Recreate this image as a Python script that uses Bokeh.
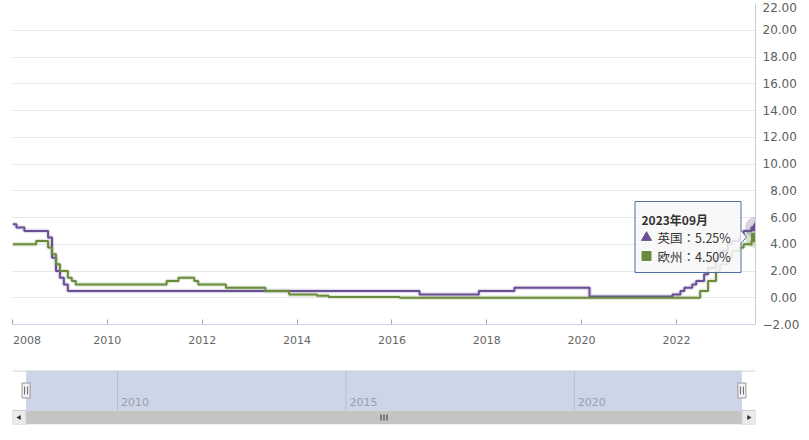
import math
from bokeh.plotting import figure
from bokeh.layouts import column
from bokeh.models import Range1d, FixedTicker
from bokeh.embed import file_html
from bokeh.resources import INLINE
from bokeh.core.properties import value

# ---------------- data (policy-rate change points, monthly) ----------------
series_names = ["英国", "欧州"]
uk_months = ["2008-01", "2008-02", "2008-04", "2008-10", "2008-11", "2008-12",
             "2009-01", "2009-02", "2009-03", "2016-08", "2017-11", "2018-08",
             "2020-03", "2021-12", "2022-02", "2022-03", "2022-05", "2022-06",
             "2022-08", "2022-09", "2022-11", "2022-12", "2023-02", "2023-03",
             "2023-05", "2023-06", "2023-08", "2023-09"]
uk_rates = [5.50, 5.25, 5.00, 4.50, 3.00, 2.00,
            1.50, 1.00, 0.50, 0.25, 0.50, 0.75,
            0.10, 0.25, 0.50, 0.75, 1.00, 1.25,
            1.75, 2.25, 3.00, 3.50, 4.00, 4.25,
            4.50, 5.00, 5.25, 5.25]
ez_months = ["2008-01", "2008-07", "2008-10", "2008-11", "2008-12", "2009-01",
             "2009-03", "2009-04", "2009-05", "2011-04", "2011-07", "2011-11",
             "2011-12", "2012-07", "2013-05", "2013-11", "2014-06", "2014-09",
             "2016-03", "2022-07", "2022-09", "2022-11", "2022-12", "2023-02",
             "2023-03", "2023-05", "2023-06", "2023-08", "2023-09"]
ez_rates = [4.00, 4.25, 3.75, 3.25, 2.50, 2.00,
            1.50, 1.25, 1.00, 1.25, 1.50, 1.25,
            1.00, 0.75, 0.50, 0.25, 0.15, 0.05,
            0.00, 0.50, 1.25, 2.00, 2.50, 3.00,
            3.50, 3.75, 4.00, 4.25, 4.50]
y_ticks = [-2, 0, 2, 4, 6, 8, 10, 12, 14, 16, 18, 20, 22]
x_ticks = [2008, 2010, 2012, 2014, 2016, 2018, 2020, 2022]
nav_ticks = [2010, 2015, 2020]

PURPLE = "#6b4f96"
GREEN = "#6a8c3a"
FONT = "DejaVu Sans"
CJK = "Noto Sans CJK JP"


def to_year(m):
    y, mo = m.split("-")
    return int(y) + (int(mo) - 1) / 12.0


uk_x = [to_year(m) for m in uk_months]
ez_x = [to_year(m) for m in ez_months]
x0 = min(uk_x[0], ez_x[0])
x1 = max(uk_x[-1], ez_x[-1])
y0, y1 = y_ticks[0], y_ticks[-1]

# ---------------- main chart ----------------
W, H = 809, 365
BL, BR, BT, BB = 12, 54, 3, 41
FW, FH = W - BL - BR, H - BT - BB

p = figure(width=W, height=H, x_range=Range1d(x0, x1), y_range=Range1d(y0, y1),
           output_backend="svg", toolbar_location=None, y_axis_location="right",
           min_border_left=BL, min_border_right=BR, min_border_top=BT,
           min_border_bottom=BB)
p.outline_line_color = None
p.background_fill_color = "white"
p.border_fill_color = "white"

xa = p.xaxis[0]
xa.ticker = FixedTicker(ticks=x_ticks)
# first label is pushed inside the canvas; pad it so it starts at its tick
xa.major_label_overrides = {x_ticks[0]: "\u2007\u2002" + str(x_ticks[0])}
xa.axis_line_color = "#ccd6eb"
xa.major_tick_line_color = "#a8a8a8"
xa.major_tick_in = 5
xa.major_tick_out = 0
xa.minor_tick_line_color = None
xa.major_label_standoff = 9
xa.major_label_text_font = FONT
xa.major_label_text_font_size = "11px"
xa.major_label_text_color = "#666666"


def ylab(v):
    s = f"{abs(v):.2f}"
    if v < 0:
        s = "\u2212" + s
    if len(s) < 5:
        s = "\u2007" * (5 - len(s)) + s
    return s


ya = p.yaxis[0]
ya.ticker = FixedTicker(ticks=y_ticks)
ya.major_label_overrides = {t: ylab(t) for t in y_ticks}
ya.axis_line_color = "#cccccc"
ya.major_tick_line_color = None
ya.minor_tick_line_color = None
ya.major_tick_in = 0
ya.major_tick_out = 0
ya.major_label_standoff = 7
ya.major_label_text_font = FONT
ya.major_label_text_font_size = "12px"
ya.major_label_text_color = "#606060"

p.xgrid.visible = False
p.ygrid.ticker = FixedTicker(ticks=y_ticks)
p.ygrid.grid_line_color = "#e6e6e6"

# series (step lines, with a soft hover halo)
p.step(uk_x, uk_rates, mode="after", line_color=PURPLE, line_width=4.5, line_alpha=0.2)
p.step(ez_x, ez_rates, mode="after", line_color=GREEN, line_width=4.5, line_alpha=0.2)
p.step(uk_x, uk_rates, mode="after", line_color=PURPLE, line_width=2)
p.step(ez_x, ez_rates, mode="after", line_color=GREEN, line_width=2)

# hovered points
p.scatter([uk_x[-1]], [uk_rates[-1]], marker="circle", size=21, fill_color=PURPLE,
          fill_alpha=0.25, line_color=None)
p.scatter([ez_x[-1]], [ez_rates[-1]], marker="circle", size=21, fill_color=GREEN,
          fill_alpha=0.25, line_color=None)
p.scatter([uk_x[-1]], [uk_rates[-1]], marker="triangle", size=10, fill_color=PURPLE,
          line_color=PURPLE)
p.scatter([ez_x[-1]], [ez_rates[-1]], marker="square", size=8, fill_color=GREEN,
          line_color=GREEN)


def px2x(px):
    return x0 + (px - BL) * (x1 - x0) / FW


def px2y(py):
    return y1 - (py - BT) * (y1 - y0) / FH


# tooltip
TB = "#4f6f9e"
p.quad(left=[px2x(634.5)], right=[px2x(740.5)], top=[px2y(201)], bottom=[px2y(272)],
       fill_color="#f7f7f7", fill_alpha=0.88, line_color=TB, line_width=1, level="overlay")
p.patch([px2x(740), px2x(746), px2x(740)], [px2y(230), px2y(236.5), px2y(243)],
        fill_color="#f7f7f7", line_color=None, level="overlay")
p.line([px2x(740.5), px2x(746), px2x(740.5)], [px2y(230), px2y(236.5), px2y(243)],
       line_color=TB, line_width=1, level="overlay")

yr = int(round(x1 * 12)) // 12
mo = int(round(x1 * 12)) % 12 + 1
p.text(x=[px2x(641)], y=[px2y(218.5)], text=[f"{yr}年{mo:02d}月"],
       text_font=value(CJK), text_font_style="bold", text_font_size="12px",
       text_color="#333333", text_baseline="middle", text_align="left", level="overlay")
p.scatter([px2x(646)], [px2y(237)], marker="triangle", size=10, fill_color=PURPLE,
          line_color=PURPLE, level="overlay")
p.scatter([px2x(646)], [px2y(255.5)], marker="square", size=9, fill_color=GREEN,
          line_color=GREEN, level="overlay")
p.text(x=[px2x(657), px2x(657)], y=[px2y(237), px2y(255.5)],
       text=[f"{series_names[0]}：{uk_rates[-1]:.2f}%", f"{series_names[1]}：{ez_rates[-1]:.2f}%"],
       text_font=value(CJK), text_font_size="12.5px", text_color="#333333",
       text_baseline="middle", text_align="left", level="overlay")

# ---------------- navigator ----------------
NH = 75
NT, NBm = 5, 16
inset = 13.6
span = (x1 - x0)
pad = inset * span / (FW - 2 * inset)
nx0, nx1 = x0 - pad, x1 + pad
npx = (nx1 - nx0) / FW

n = figure(width=W, height=NH, x_range=Range1d(nx0, nx1), y_range=Range1d(54, 0),
           output_backend="svg", toolbar_location=None, x_axis_type=None, y_axis_type=None,
           min_border_left=BL, min_border_right=BR, min_border_top=NT,
           min_border_bottom=NBm)
n.outline_line_color = None
n.grid.visible = False
n.background_fill_color = "white"
n.border_fill_color = "white"

# selected range band
n.quad(left=[x0], right=[x1], top=[0], bottom=[40], fill_color="#ccd6e8", line_color=None)
# grid + labels
n.segment(x0=nav_ticks, y0=[0] * len(nav_ticks), x1=nav_ticks, y1=[40] * len(nav_ticks),
          line_color="#b7c1d4", line_width=1)
n.text(x=nav_ticks, y=[31.5] * len(nav_ticks), text=[str(t) for t in nav_ticks],
       x_offset=3.5, text_font=value(FONT), text_font_size="11px", text_color="#9a9ea8",
       text_baseline="middle", text_align="left")
# top border
n.segment(x0=[nx0], y0=[0.5], x1=[nx1], y1=[0.5], line_color="#c8c8c8", line_width=1)

# scrollbar
n.quad(left=[x0], right=[x1], top=[40], bottom=[54], fill_color="#c4c4c4", line_color=None)
n.quad(left=[nx0, x1], right=[x0, nx1], top=[40, 40], bottom=[54, 54],
       fill_color="#ebebeb", line_color="#cccccc", line_width=1)
n.scatter([(nx0 + x0) / 2], [47], marker="triangle", angle=math.pi / 2, size=5,
          fill_color="#333333", line_color=None)
n.scatter([(x1 + nx1) / 2], [47], marker="triangle", angle=-math.pi / 2, size=5,
          fill_color="#333333", line_color=None)
cx = (x0 + x1) / 2
gx = [cx - 3 * npx, cx, cx + 3 * npx]
n.segment(x0=gx, y0=[44] * 3, x1=gx, y1=[50] * 3, line_color="#333333", line_width=1)

# handles
n.rect(x=[x0, x1], y=[20, 20], width=8, height=15, width_units="screen",
       height_units="screen", fill_color="#f2f2f2", line_color="#999999", line_width=1)
hx = [x0 - 1.5 * npx, x0 + 1.5 * npx, x1 - 1.5 * npx, x1 + 1.5 * npx]
n.segment(x0=hx, y0=[16] * 4, x1=hx, y1=[24] * 4, line_color="#666666", line_width=1)

layout = column(p, n, spacing=0)
open("out.html", "w").write(file_html(layout, INLINE))
